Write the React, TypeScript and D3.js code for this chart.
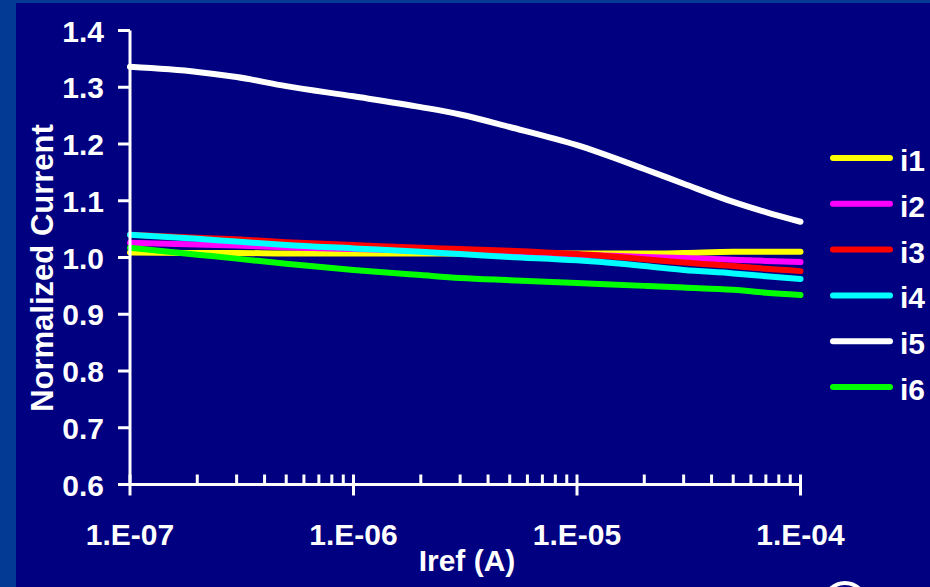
import React from "react";
import * as d3 from "d3";

const iref = [1e-7, 2e-7, 3e-7, 5e-7, 1e-6, 2e-6, 3e-6, 5e-6, 1e-5, 2e-5, 3e-5, 5e-5, 7e-5, 1e-4];
const i1 = [1.009, 1.008, 1.008, 1.007, 1.007, 1.007, 1.007, 1.007, 1.007, 1.007, 1.008, 1.010, 1.010, 1.010];
const i2 = [1.026, 1.023, 1.021, 1.018, 1.015, 1.012, 1.011, 1.008, 1.005, 1.001, 0.999, 0.996, 0.994, 0.992];
const i3 = [1.040, 1.035, 1.032, 1.027, 1.022, 1.017, 1.015, 1.012, 1.006, 0.997, 0.991, 0.985, 0.980, 0.976];
const i4 = [1.040, 1.033, 1.028, 1.022, 1.016, 1.010, 1.006, 1.001, 0.995, 0.985, 0.978, 0.972, 0.967, 0.962];
const i5 = [1.336, 1.327, 1.318, 1.302, 1.284, 1.265, 1.252, 1.230, 1.198, 1.156, 1.130, 1.098, 1.080, 1.063];
const i6 = [1.017, 1.005, 0.998, 0.989, 0.978, 0.969, 0.964, 0.960, 0.955, 0.950, 0.947, 0.943, 0.938, 0.934];

const seriesNames = ["i1", "i2", "i3", "i4", "i5", "i6"];
const seriesValues = [i1, i2, i3, i4, i5, i6];
const seriesColors = ["#FFFF00", "#FF00FF", "#FF0000", "#00FFFF", "#FFFFFF", "#00FF00"];

const yTicks = [0.6, 0.7, 0.8, 0.9, 1.0, 1.1, 1.2, 1.3, 1.4];
const xMajor = [1e-7, 1e-6, 1e-5, 1e-4];
const xMajorLabels = ["1.E-07", "1.E-06", "1.E-05", "1.E-04"];
const yTitle = "Normalized Current";
const xTitle = "Iref (A)";

const W = 930;
const H = 587;
const FONT = "'Liberation Sans', Arial, sans-serif";

export default function App() {
  const x = d3.scaleLog().domain([1e-7, 1e-4]).range([130, 800.5]);
  const y = d3.scaleLinear().domain([0.6, 1.4]).range([484.5, 30.5]);

  const minor: number[] = [];
  for (let e = -7; e < -4; e++) {
    for (let m = 2; m <= 9; m++) minor.push(m * Math.pow(10, e));
  }

  const line = d3
    .line<number>()
    .x((_, i) => x(iref[i]))
    .y((d) => y(d))
    .curve(d3.curveMonotoneX);

  return (
    <svg
      width={W}
      height={H}
      style={{ position: "absolute", left: 0, top: 0 }}
      fontFamily={FONT}
      fontWeight="bold"
    >
      <rect x={0} y={0} width={W} height={H} fill="#023A94" />
      <rect x={16} y={3} width={W - 16} height={H - 3} fill="#000080" />

      {seriesValues.map((vals, k) => (
        <path
          key={seriesNames[k]}
          d={line(vals) || ""}
          fill="none"
          stroke={seriesColors[k]}
          strokeWidth={6}
          strokeLinecap="round"
          strokeLinejoin="round"
        />
      ))}

      <line x1={130} x2={130} y1={y(1.4)} y2={y(0.6)} stroke="#fff" strokeWidth={3} />
      {yTicks.map((t) => (
        <g key={t}>
          <line x1={118} x2={130} y1={y(t)} y2={y(t)} stroke="#fff" strokeWidth={3} />
          <text x={104} y={y(t) + 11} fill="#fff" fontSize={30} textAnchor="end">
            {t.toFixed(1)}
          </text>
        </g>
      ))}

      <line x1={130} x2={x(1e-4)} y1={y(0.6)} y2={y(0.6)} stroke="#fff" strokeWidth={3} />
      {minor.map((t) => (
        <line key={t} x1={x(t)} x2={x(t)} y1={y(0.6) - 10} y2={y(0.6)} stroke="#fff" strokeWidth={3} />
      ))}
      {xMajor.map((t, i) => (
        <g key={t}>
          <line x1={x(t)} x2={x(t)} y1={y(0.6) - 10} y2={y(0.6) + 11} stroke="#fff" strokeWidth={3} />
          <text x={x(t)} y={545} fill="#fff" fontSize={30} textAnchor="middle">
            {xMajorLabels[i]}
          </text>
        </g>
      ))}

      <text x={467} y={571} fill="#fff" fontSize={30} textAnchor="middle">
        {xTitle}
      </text>
      <text transform={`translate(53, 268) rotate(-90)`} fill="#fff" fontSize={31} textAnchor="middle">
        {yTitle}
      </text>

      {seriesNames.map((n, k) => {
        const ly = 158 + k * 45.8;
        return (
          <g key={n}>
            <line x1={833} x2={890} y1={ly} y2={ly} stroke={seriesColors[k]} strokeWidth={6} strokeLinecap="round" />
            <text x={900} y={ly + 13} fill="#fff" fontSize={30}>
              {n}
            </text>
          </g>
        );
      })}

      <circle cx={845} cy={604} r={21} fill="none" stroke="#fff" strokeWidth={4} />
    </svg>
  );
}
